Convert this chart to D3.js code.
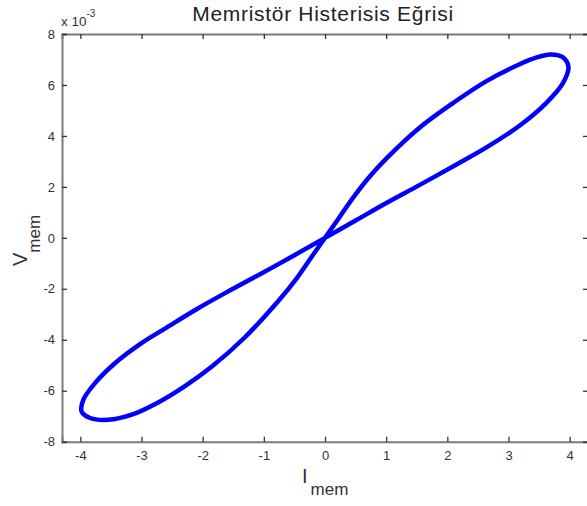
<!DOCTYPE html>
<html>
<head>
<meta charset="utf-8">
<script src="https://cdn.jsdelivr.net/npm/d3@7"></script>
<style>
    body { margin: 0; background: #fff; }
    svg { display: block; font-family: "Liberation Sans", Arial, sans-serif; }
    .tick-label { font-size: 13px; fill: #333; }
</style>
</head>
<body>
<div id="chart"></div>
<script>
// 电流 I_mem 与电压 V_mem (单位 x10^-3)，沿回线顺序读取
let iMem = [0, 0.20, 0.46, 0.735, 1.01, 1.55, 2.10, 2.64, 3.19, 3.45, 3.68, 3.88, 3.98, 3.89, 3.62, 3.19, 2.64, 2.15, 1.55, 1.01, 0.50, 0.22,
    0, -0.22, -0.50, -1.01, -1.55, -2.10, -2.61, -3.00, -3.43, -3.76, -3.95, -3.98, -3.84, -3.54, -3.16, -2.72, -2.29, -1.85, -1.33, -0.735, -0.46, -0.20];
let vMem = [0, 0.68, 1.58, 2.42, 3.13, 4.33, 5.30, 6.15, 6.82, 7.07, 7.20, 7.10, 6.72, 6.07, 5.30, 4.42, 3.55, 2.88, 2.08, 1.38, 0.68, 0.30,
    0, -0.30, -0.68, -1.36, -2.06, -2.80, -3.55, -4.13, -4.91, -5.70, -6.35, -6.81, -7.07, -7.14, -6.94, -6.45, -5.82, -5.05, -3.95, -2.40, -1.58, -0.68];

let xTicks = [-4, -3, -2, -1, 0, 1, 2, 3, 4];
let yTicks = [-8, -6, -4, -2, 0, 2, 4, 6, 8];

let width = 587;
let height = 506;

let svg = d3.select("#chart")
    .append("svg")
    .attr("width", width)
    .attr("height", height);

// 坐标轴范围
let box = {left: 62, right: 588, top: 34, bottom: 441.7};

let xScale = d3.scaleLinear()
    .domain([-4.3, 4.3])
    .range([box.left, box.right]);

let yScale = d3.scaleLinear()
    .domain([-8, 8])
    .range([box.bottom, box.top]);

// 回线
let points = iMem.map((d, i) => [d, vMem[i]]);
let line = d3.line()
    .x(d => xScale(d[0]))
    .y(d => yScale(d[1]))
    .curve(d3.curveCatmullRomClosed.alpha(0.5));

svg.append("path")
    .datum(points)
    .attr("d", line)
    .attr("fill", "none")
    .attr("stroke", "#0000ff")
    .attr("stroke-width", 4.5)
    .attr("stroke-linejoin", "round");

// 四周的框和向内的刻度 (MATLAB 风格)，刻度文字用普通连字符
let tickLen = 5;
let plain = d => String(d);
let xAxisBottom = d3.axisBottom(xScale).tickValues(xTicks).tickSize(-tickLen).tickPadding(9).tickFormat(plain);
let xAxisTop = d3.axisTop(xScale).tickValues(xTicks).tickSize(-tickLen).tickFormat("");
let yAxisLeft = d3.axisLeft(yScale).tickValues(yTicks).tickSize(-tickLen).tickPadding(7).tickFormat(plain);
let yAxisRight = d3.axisRight(yScale).tickValues(yTicks).tickSize(-tickLen).tickFormat("");

let drawAxis = function (axis, tx, ty) {
    let g = svg.append("g")
        .attr("transform", "translate(" + tx + "," + ty + ")")
        .call(axis);
    g.select(".domain").attr("stroke", "#7a7a7a").attr("stroke-width", 2);
    g.selectAll(".tick line").attr("stroke", "#333").attr("stroke-width", 1.3);
    g.selectAll(".tick text").attr("class", "tick-label").attr("font-size", null).attr("font-family", null);
    return g;
};

drawAxis(xAxisBottom, 0, box.bottom);
drawAxis(xAxisTop, 0, box.top);
drawAxis(yAxisLeft, box.left, 0);
drawAxis(yAxisRight, box.right, 0);

// 倍数 x 10^-3
let mult = svg.append("text")
    .attr("x", 61)
    .attr("y", 26)
    .attr("font-size", 13.5)
    .attr("fill", "#333");
mult.append("tspan").text("x 10");
mult.append("tspan").attr("dy", -9).attr("font-size", 10).text("-3");

// 标题
svg.append("text")
    .attr("x", 323)
    .attr("y", 21)
    .attr("text-anchor", "middle")
    .attr("font-size", 21)
    .attr("letter-spacing", 0.7)
    .attr("fill", "#222")
    .text("Memristör Histerisis Eğrisi");

// x 轴标签 I_mem
let xLabel = svg.append("text")
    .attr("x", 302)
    .attr("y", 483)
    .attr("font-size", 20)
    .attr("fill", "#333");
xLabel.append("tspan").text("I");
xLabel.append("tspan").attr("dy", 12).attr("dx", 3).attr("font-size", 17).text("mem");

// y 轴标签 V_mem
let yLabel = svg.append("text")
    .attr("transform", "translate(27,266) rotate(-90)")
    .attr("font-size", 20)
    .attr("fill", "#333");
yLabel.append("tspan").text("V");
yLabel.append("tspan").attr("dy", 13).attr("font-size", 17).text("mem");
</script>
</body>
</html>
